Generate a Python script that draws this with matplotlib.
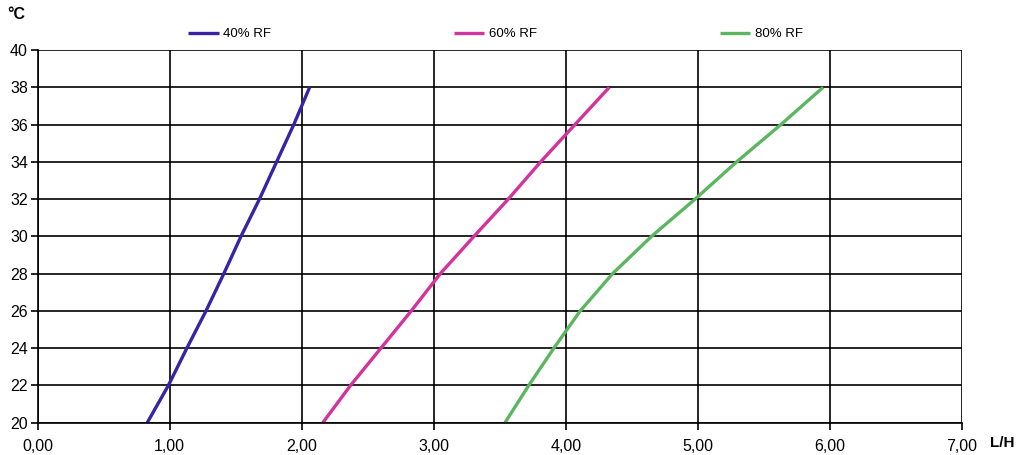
import numpy as np
import matplotlib.pyplot as plt
from matplotlib.ticker import FuncFormatter

plt.rcParams['font.family'] = ['Liberation Sans', 'DejaVu Sans']

# temperature levels (°C) and flow read for each humidity curve (L/H)
temp = [20, 22, 24, 26, 28, 30, 32, 34, 36, 38]
flow_40 = [0.83, 0.99, 1.13, 1.275, 1.41, 1.54, 1.68, 1.81, 1.94, 2.06]
flow_60 = [2.16, 2.37, 2.60, 2.83, 3.05, 3.305, 3.565, 3.81, 4.07, 4.33]
flow_80 = [3.54, 3.72, 3.91, 4.11, 4.355, 4.65, 4.98, 5.295, 5.63, 5.95]
labels = ['40% RF', '60% RF', '80% RF']
colors = ['#3a22a6', '#d4329c', '#5cb660']

fig = plt.figure(figsize=(10.24, 4.55), dpi=100)
ax = fig.add_axes([0.0368, 0.071, 0.9024, 0.819])

for fl, lab, col in zip([flow_40, flow_60, flow_80], labels, colors):
    ax.plot(fl, temp, color=col, lw=2.4, label=lab, solid_capstyle='butt',
            solid_joinstyle='round')

ax.set_xlim(0, 7)
ax.set_ylim(20, 40)
ax.set_xticks(np.arange(0, 8, 1))
ax.set_yticks(np.arange(20, 41, 2))
ax.xaxis.set_major_formatter(FuncFormatter(lambda v, p: f'{v:.2f}'.replace('.', ',')))
ax.grid(True, color='black', lw=1.2)
ax.set_axisbelow(True)
for s in ['top', 'right']:
    ax.spines[s].set_visible(False)
for s in ['left', 'bottom']:
    ax.spines[s].set_linewidth(1.2)
ax.tick_params(axis='both', length=5, width=1.2, labelsize=11.5, colors='black')
ax.tick_params(axis='x', pad=7)
ax.tick_params(axis='y', pad=2)

fig.text(0.007, 0.968, '°C', fontsize=11.5, fontweight='bold', va='center')
fig.text(0.967, 0.026, 'L/H', fontsize=11, fontweight='bold', va='center')

ax.legend(ncol=3, loc='center left', bbox_to_anchor=(0.163, 1.043), frameon=False,
          fontsize=9.5, handlelength=2.3, handletextpad=0.35, columnspacing=13.85,
          borderaxespad=0, borderpad=0)

fig.savefig('out.png', dpi=100)
